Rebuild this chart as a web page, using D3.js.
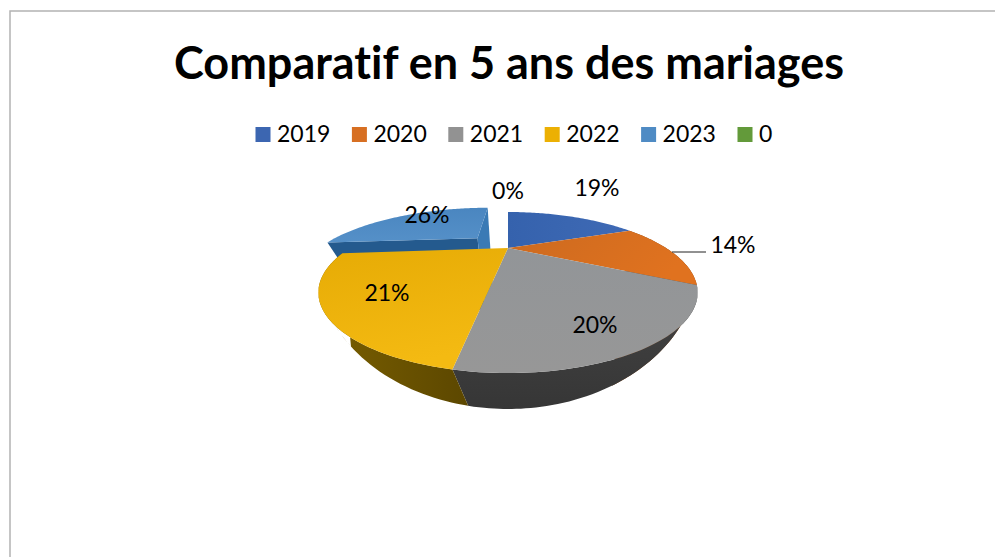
<!DOCTYPE html>
<html><head><meta charset="utf-8">
<script src="https://cdn.jsdelivr.net/npm/d3@7"></script>
<style>html,body{margin:0;padding:0;background:#fff}svg{display:block}text{font-family:Lato,"Liberation Sans",sans-serif;fill:#000;font-variant-ligatures:none}</style>
</head><body><svg id="c" width="995" height="557"></svg>
<script>
const titleText = "Comparatif en 5 ans des mariages";
const categories = ["2019","2020","2021","2022","2023","0"];
const shares = [18.9,14.1,19.5,21.0,26.4,0];
const labels = ["19%","14%","20%","21%","26%","0%"];
const colors = ["#3c66b1","#d76f22","#929292","#ecb003","#4f8bc4","#639a3a"];
const wallColors = ["#1f3766","#7d4012","#3c3c3c","#6a5200","#245a8e","#3a5a22"];

const W=995,H=557;
const svg=d3.select("#c");
const cx=508,cy=248,R=158,A=55.9,K=0.553,EXPL=0.29,DROP_S=0.74,DROP_Y=267;
const BOWL_A=190,BOWL_B=143,BOWL_Y=18;

// perspective projection of a point in the pie plane; depth extrudes the rim downwards
function proj(u,v,depth){
  const D=1-K*v; let x=R*u/D,y=A*v/D;
  if(depth){x=x*DROP_S;y=DROP_Y+(y-DROP_Y)*DROP_S;}
  return [cx+x,cy+y];
}
function rim(a,ex,depth){return proj(Math.sin(a)+ex[0],-Math.cos(a)+ex[1],depth);}
function arcPts(a0,a1,ex,depth){
  const n=Math.max(2,Math.ceil((a1-a0)/0.02)),t=[];
  for(let i=0;i<=n;i++)t.push(rim(a0+(a1-a0)*i/n,ex,depth));
  return t;
}
// lower edge of the bowl-shaped side wall, for a point of the top rim
function bowl(p){
  const x=p[0]-cx,y=p[1]-cy;
  const xb=x*(0.6+0.4*Math.min(1,Math.abs(x)/BOWL_A));
  const yb=BOWL_Y+BOWL_B*Math.sqrt(Math.max(0,1-xb*xb/(BOWL_A*BOWL_A)));
  return [cx+xb,cy+Math.max(y,yb)];
}
const line=d3.line().curve(d3.curveLinear);
const arcs=d3.pie().sort(null).value(d=>d)(shares);
const explodeOf=i=>{ if(i!==4) return [0,0]; const m=(arcs[i].startAngle+arcs[i].endAngle)/2; return [EXPL*Math.sin(m),-EXPL*Math.cos(m)]; };

const defs=svg.append("defs");
function grad(id,c0,c1,x2,y2){const g=defs.append("linearGradient").attr("id",id).attr("x1",0).attr("y1",0).attr("x2",x2).attr("y2",y2);
 g.append("stop").attr("offset",0).attr("stop-color",c0);g.append("stop").attr("offset",1).attr("stop-color",c1);}
grad("t0","#3562ad","#3f6ab5",1,0);
grad("t1","#cc6a1f","#e0721f",1,0.3);
grad("t2","#929598","#979797",0,1);
grad("t3","#e6ab05","#f4ba12",0.3,1);
grad("t4","#4a86c0","#5590c8",0,1);
grad("w3","#7a5f00","#5c4700",1,0);
grad("w2","#444444","#363636",0,1);

// frame
svg.append("path").attr("d",`M10,${H}V11H${W}`).attr("fill","none").attr("stroke","#b3b3b3").attr("stroke-width",1.5);

// title
svg.append("text").attr("x",509).attr("y",79).attr("text-anchor","middle")
  .attr("font-size",45).attr("font-weight",700).text(titleText);

// legend
const legX=d3.scalePoint().domain(categories).range([255.5,737.5]);
const leg=svg.selectAll("g.l").data(categories).join("g").attr("transform",d=>`translate(${legX(d)},127)`);
leg.append("rect").attr("width",15).attr("height",15).attr("fill",(d,i)=>colors[i]);
leg.append("text").attr("x",21.5).attr("y",14.5).attr("font-size",23).text(d=>d);

// exploded slice: walls first, then top
const b=arcs[4],ex=explodeOf(4);
const apex=proj(ex[0],ex[1],false),apexD=proj(ex[0],ex[1],true);
svg.append("path").attr("d",line([rim(b.startAngle,ex,false),apex,apexD,rim(b.startAngle,ex,true)])+"Z").attr("fill",wallColors[4]);
svg.append("path").attr("d",line([rim(b.endAngle,ex,false),apex,apexD,rim(b.endAngle,ex,true)])+"Z").attr("fill","#3a7ab5");
svg.append("path").attr("d",line([apex,...arcPts(b.startAngle,b.endAngle,ex,false)])+"Z").attr("fill","url(#t4)");

// main body walls: a strip of quads so that the silhouette joins the two edges
[1,2,3].forEach(i=>{
  const a=arcs[i],top=arcPts(a.startAngle,a.endAngle,[0,0],false),bot=top.map(bowl);
  const d=d3.range(top.length-1).map(k=>line([top[k],top[k+1],bot[k+1],bot[k]])+"Z").join("");
  svg.append("path").attr("d",d)
    .attr("fill",i===2?"url(#w2)":i===3?"url(#w3)":wallColors[i]);
});
// main body tops
[0,1,2,3].forEach(i=>{
  const a=arcs[i];
  svg.append("path").attr("d",line([proj(0,0,false),...arcPts(a.startAngle,a.endAngle,[0,0],false)])+"Z")
    .attr("fill",`url(#t${i})`);
});

// leader line
svg.append("line").attr("x1",672).attr("x2",706).attr("y1",252).attr("y2",252).attr("stroke","#222").attr("stroke-width",1);

// data labels
const labelAt=[[597,196],[733,253],[595,333],[387,301],[427,222.5],[508,199]];
svg.selectAll("text.d").data(labels).join("text").attr("class","d")
  .attr("x",(d,i)=>labelAt[i][0]).attr("y",(d,i)=>labelAt[i][1])
  .attr("text-anchor","middle").attr("font-size",23).text(d=>d);
</script></body></html>
